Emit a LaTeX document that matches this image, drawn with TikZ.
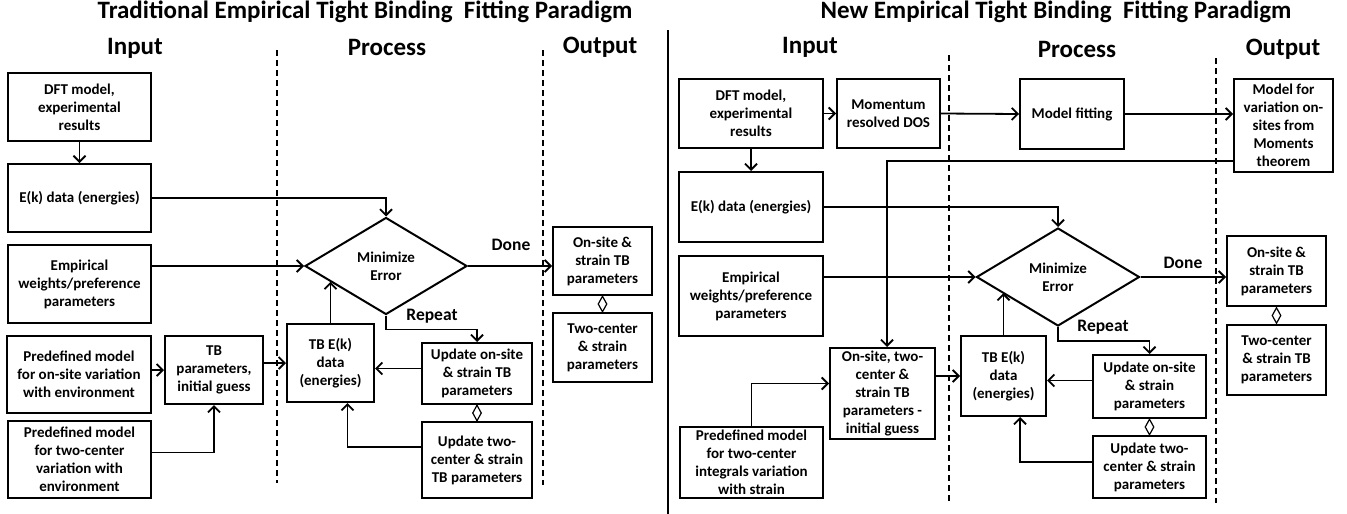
\documentclass[tikz,border=0pt]{standalone}
\usepackage{fontspec}
\setmainfont{Carlito}
\usetikzlibrary{arrows.meta,shapes.geometric,calc}
\begin{document}
\begin{tikzpicture}[x=1pt,y=-1pt,
  box/.style={draw, line width=2pt, align=center, inner sep=1pt, font=\bfseries\fontsize{15}{18}\selectfont},
  dia/.style={draw, shape=diamond, line width=2pt, align=center, inner sep=0pt, minimum width=162pt, minimum height=97pt, font=\bfseries\fontsize{15}{18}\selectfont},
  ttl/.style={font=\bfseries\fontsize{25}{30}\selectfont},
  hdr/.style={font=\bfseries\fontsize{25}{30}\selectfont},
  lbl/.style={font=\bfseries\fontsize{17.5}{21}\selectfont},
  ln/.style={line width=1.8pt},
  arr/.style={line width=1.8pt, -{Straight Barb[length=6pt,width=12pt,line width=1.8pt]}},
  sepline/.style={line width=1.6pt, dash pattern=on 6pt off 4pt},
  dmark/.style={draw, fill=white, shape=diamond, line width=1.2pt, minimum width=9pt, minimum height=16pt, inner sep=0pt},
]
\useasboundingbox (0,0) rectangle (1347,514);

% ---------------- titles and headers
\node[ttl] (tL) at (365,12) {Traditional Empirical Tight Binding\ \ Fitting Paradigm};
\node[ttl] (tR) at (1056,12) {New Empirical Tight Binding\ \ Fitting Paradigm};
\node[hdr] (hInL) at (135,48) {Input};
\node[hdr] (hPrL) at (387,47) {Process};
\node[hdr] (hOuL) at (600,47) {Output};
\node[hdr] (hInR) at (810,47) {Input};
\node[hdr] (hPrR) at (1077,49) {Process};
\node[hdr] (hOuR) at (1283,49) {Output};

% separators
\draw[line width=2.8pt] (668,30) -- (668,514);
\draw[sepline] (277,50) -- (277,483);
\draw[sepline] (543,50) -- (543,485);
\draw[sepline] (949,55) -- (949,502);
\draw[sepline] (1216,58) -- (1216,503);

% ---------------- LEFT
\node[box, minimum width=143pt, minimum height=68pt] (dftL) at (79.5,107) {DFT model,\\experimental\\results};
\node[box, minimum width=143pt, minimum height=68pt] (ekL) at (79.5,198) {E(k) data (energies)};
\node[box, minimum width=143pt, minimum height=78pt] (empL) at (79.5,284) {Empirical\\weights/preference\\parameters};
\node[box, minimum width=144pt, minimum height=77pt] (preOnL) at (79,374.5) {Predefined model\\for on-site variation\\with environment};
\node[box, minimum width=98pt, minimum height=68pt] (tbpL) at (214,370) {TB\\parameters,\\initial guess};
\node[box, minimum width=143pt, minimum height=77pt] (preTwoL) at (79.5,459.5) {Predefined model\\for two-center\\variation with\\environment};
\node[box, minimum width=87pt, minimum height=78pt] (tbeL) at (330.5,363) {TB E(k)\\data\\(energies)};
\node[dia] (diaL) at (386,266) {Minimize\\Error};
\node[box, minimum width=110pt, minimum height=61pt] (updOnL) at (477,373.5) {Update on-site\\\& strain TB\\parameters};
\node[box, minimum width=110pt, minimum height=76pt] (updTwoL) at (477,460) {Update two-\\center \& strain\\TB parameters};
\node[box, minimum width=99pt, minimum height=68pt] (outOnL) at (602.5,261) {On-site \&\\strain TB\\parameters};
\node[box, minimum width=99pt, minimum height=69pt] (outTwoL) at (602.5,347.5) {Two-center\\\& strain\\parameters};
\node[lbl] (doneL) at (511,245) {Done};
\node[lbl] (repL) at (432,316) {Repeat};

\draw[arr] (dftL.south) -- (ekL.north);
\draw[arr] (ekL.east) -| (diaL.north);
\draw[arr] (empL.east |- diaL.west) -- (diaL.west);
\draw[arr] (preOnL.east |- tbpL.west) -- (tbpL.west);
\draw[arr] ([yshift=7pt]preTwoL.east) -| (tbpL.south);
\draw[arr] (tbpL.east |- tbeL.west) -- (tbeL.west);
\coordinate (eL) at ($(diaL.west)!0.32!(diaL.south)$);
\draw[arr] (tbeL.north) -- (tbeL.north |- eL);
\draw[arr] (diaL.south) -- ++(0,14) -| (updOnL.north);
\coordinate (uL) at ([yshift=5pt]updOnL.west);
\draw[arr] (uL) -- (uL -| tbeL.east);
\draw[arr] ([yshift=13pt]updTwoL.west) -| ([xshift=17pt]tbeL.south);
\draw[arr] (diaL.east) -- (diaL.east -| outOnL.west);
\draw[ln] (updOnL.south) -- node[dmark]{} (updTwoL.north);
\draw[ln] (outOnL.south) -- node[dmark]{} (outTwoL.north);

% ---------------- RIGHT
\node[box, minimum width=144pt, minimum height=69pt] (dftR) at (751,113.5) {DFT model,\\experimental\\results};
\node[box, minimum width=103pt, minimum height=69pt] (momR) at (888.5,113.5) {Momentum\\resolved DOS};
\node[box, minimum width=104pt, minimum height=70pt] (fitR) at (1072,114) {Model fitting};
\node[box, minimum width=99pt, minimum height=93pt] (modR) at (1283.5,125.5) {Model for\\variation on-\\sites from\\Moments\\theorem};
\node[box, minimum width=144pt, minimum height=70pt] (ekR) at (751,207) {E(k) data (energies)};
\node[box, minimum width=144pt, minimum height=80pt] (empR) at (751,296) {Empirical\\weights/preference\\parameters};
\node[box, minimum width=105pt, minimum height=91pt] (initR) at (882.5,393.5) {On-site, two-\\center \&\\strain TB\\parameters -\\initial guess};
\node[box, minimum width=143pt, minimum height=71pt] (preR) at (751.5,462.5) {Predefined model\\for two-center\\integrals variation\\with strain};
\node[box, minimum width=85pt, minimum height=80pt] (tbeR) at (1003.5,376) {TB E(k)\\data\\(energies)};
\node[dia, minimum width=163pt, minimum height=98pt] (diaR) at (1058,277) {Minimize\\Error};
\node[box, minimum width=113pt, minimum height=63pt] (updOnR) at (1149.5,386.5) {Update on-site\\\& strain\\parameters};
\node[box, minimum width=113pt, minimum height=62pt] (updTwoR) at (1149.5,467) {Update two-\\center \& strain\\parameters};
\node[box, minimum width=99pt, minimum height=70pt] (outOnR) at (1276.5,271) {On-site \&\\strain TB\\parameters};
\node[box, minimum width=99pt, minimum height=70pt] (outTwoR) at (1276.5,360) {Two-center\\\& strain TB\\parameters};
\node[lbl] (doneR) at (1183,263) {Done};
\node[lbl] (repR) at (1103,327) {Repeat};

\draw[arr] (dftR.east) -- (momR.west);
\draw[arr] (momR.east) -- (fitR.west);
\draw[arr] (fitR.east) -- (fitR.east -| modR.west);
\draw[arr] ([yshift=-35.5pt]modR.west) -| ([xshift=4.5pt]initR.north);
\draw[arr] (dftR.south) -- (ekR.north);
\draw[arr] (ekR.east) -| (diaR.north);
\draw[arr] (empR.east |- diaR.west) -- (diaR.west);
\draw[arr] (preR.north) |- ([yshift=10pt]initR.west);
\draw[arr] (initR.east |- tbeR.west) -- (tbeR.west);
\coordinate (eR) at ($(diaR.west)!0.32!(diaR.south)$);
\draw[arr] (tbeR.north) -- (tbeR.north |- eR);
\draw[arr] (diaR.south) -- ++(0,14) -| (updOnR.north);
\coordinate (uR) at ([yshift=6pt]updOnR.west);
\draw[arr] (uR) -- (uR -| tbeR.east);
\draw[arr] ([yshift=5pt]updTwoR.west) -| ([xshift=16.5pt]tbeR.south);
\draw[arr] (diaR.east) -- (diaR.east -| outOnR.west);
\draw[ln] (updOnR.south) -- node[dmark]{} (updTwoR.north);
\draw[ln] (outOnR.south) -- node[dmark]{} (outTwoR.north);
\end{tikzpicture}
\end{document}
